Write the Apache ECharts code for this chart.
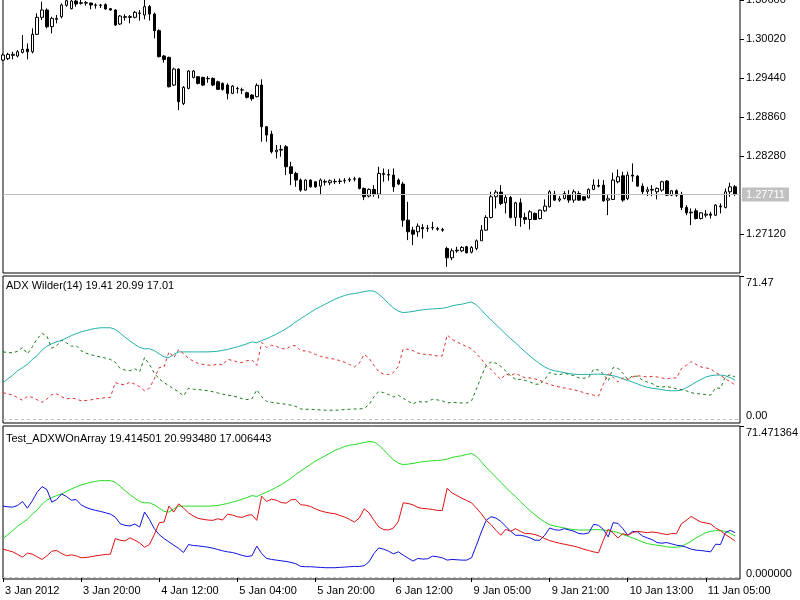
<!DOCTYPE html>
<html>
<head>
<meta charset="utf-8">
<title>ADX Wilder</title>
<script src="https://cdn.jsdelivr.net/npm/echarts@6/dist/echarts.min.js"></script>
<style>
  html, body { margin: 0; padding: 0; background: #fff; }
  #main { width: 800px; height: 600px; }
</style>
</head>
<body>
<div id="main"></div>
<script>
// H1 bars, [open, close, low, high]
var ohlc = [
  [1.29711,1.29786,1.29696,1.29810],[1.29731,1.29796,1.29711,1.29820],[1.29781,1.29796,1.29721,1.29835],
  [1.29771,1.29835,1.29751,1.29860],[1.29825,1.29870,1.29810,1.30083],[1.29875,1.29835,1.29721,1.29959],
  [1.29835,1.30093,1.29810,1.30182],[1.30093,1.30346,1.30083,1.30406],[1.30346,1.30455,1.30306,1.30579],
  [1.30455,1.30207,1.30182,1.30480],[1.30207,1.30331,1.30108,1.30356],[1.30316,1.30331,1.30257,1.30381],
  [1.30356,1.30530,1.30331,1.30554],[1.30525,1.30594,1.30505,1.30619],[1.30475,1.30589,1.30465,1.30610],
  [1.30589,1.30544,1.30505,1.30619],[1.30554,1.30564,1.30535,1.30604],[1.30564,1.30559,1.30520,1.30589],
  [1.30559,1.30530,1.30465,1.30564],[1.30530,1.30525,1.30475,1.30554],[1.30525,1.30530,1.30485,1.30545],
  [1.30535,1.30470,1.30460,1.30554],[1.30475,1.30455,1.30445,1.30485],[1.30455,1.30232,1.30217,1.30465],
  [1.30247,1.30366,1.30232,1.30381],[1.30346,1.30356,1.30297,1.30391],[1.30356,1.30346,1.30257,1.30381],
  [1.30346,1.30421,1.30331,1.30440],[1.30411,1.30406,1.30297,1.30455],[1.30381,1.30505,1.30316,1.30625],
  [1.30505,1.30396,1.30297,1.30530],[1.30396,1.30148,1.30034,1.30416],[1.30148,1.29761,1.29751,1.30168],
  [1.29771,1.29721,1.29672,1.29786],[1.29751,1.29314,1.29305,1.29761],[1.29339,1.29577,1.29324,1.29597],
  [1.29577,1.29091,1.28967,1.29587],[1.29066,1.29305,1.29042,1.29324],[1.29290,1.29548,1.29275,1.29562],
  [1.29453,1.29548,1.29438,1.29562],[1.29463,1.29364,1.29349,1.29473],[1.29453,1.29339,1.29324,1.29463],
  [1.29433,1.29438,1.29374,1.29473],[1.29438,1.29339,1.29324,1.29453],[1.29389,1.29275,1.29265,1.29404],
  [1.29364,1.29275,1.29255,1.29379],[1.29339,1.29215,1.29126,1.29364],[1.29215,1.29324,1.29205,1.29339],
  [1.29285,1.29290,1.29215,1.29314],[1.29265,1.29268,1.29205,1.29300],[1.29225,1.29156,1.29141,1.29240],
  [1.29190,1.29136,1.29106,1.29205],[1.29166,1.29334,1.29156,1.29364],[1.29339,1.28719,1.28496,1.29424],
  [1.28719,1.28595,1.28496,1.28729],[1.28610,1.28347,1.28322,1.28660],[1.28347,1.28372,1.28248,1.28446],
  [1.28372,1.28382,1.28273,1.28446],[1.28422,1.28124,1.28000,1.28446],[1.28124,1.28025,1.27851,1.28198],
  [1.28025,1.27926,1.27826,1.28050],[1.27926,1.27777,1.27752,1.27950],[1.27777,1.27926,1.27767,1.27936],
  [1.27926,1.27826,1.27816,1.27936],[1.27901,1.27826,1.27811,1.27911],[1.27836,1.27926,1.27702,1.27950],
  [1.27896,1.27906,1.27846,1.27936],[1.27886,1.27916,1.27851,1.27936],[1.27901,1.27906,1.27866,1.27946],
  [1.27906,1.27911,1.27866,1.27950],[1.27916,1.27921,1.27876,1.27955],[1.27926,1.27936,1.27896,1.27965],
  [1.27940,1.27945,1.27906,1.27975],[1.27950,1.27802,1.27787,1.27965],[1.27802,1.27678,1.27628,1.27816],
  [1.27688,1.27787,1.27668,1.27802],[1.27787,1.27717,1.27678,1.27851],[1.27717,1.28025,1.27653,1.28124],
  [1.28025,1.28010,1.27901,1.28099],[1.28010,1.28000,1.27916,1.28084],[1.28000,1.27826,1.27752,1.28099],
  [1.27926,1.27866,1.27851,1.27950],[1.27866,1.27330,1.27231,1.27901],[1.27330,1.27157,1.27033,1.27603],
  [1.27181,1.27122,1.26958,1.27231],[1.27157,1.27241,1.27082,1.27281],[1.27221,1.27201,1.27058,1.27271],
  [1.27206,1.27211,1.27157,1.27256],[1.27216,1.27221,1.27181,1.27305],[1.27206,1.27196,1.27172,1.27231],
  [1.27191,1.27181,1.27157,1.27216],[1.26909,1.26770,1.26636,1.26934],[1.26770,1.26874,1.26735,1.26909],
  [1.26874,1.26884,1.26845,1.26934],[1.26874,1.26924,1.26854,1.26944],[1.26934,1.26845,1.26835,1.26949],
  [1.26854,1.26924,1.26835,1.26944],[1.26909,1.27023,1.26884,1.27043],[1.27023,1.27181,1.27023,1.27256],
  [1.27181,1.27370,1.27171,1.27404],[1.27370,1.27678,1.27355,1.27752],[1.27678,1.27747,1.27504,1.27777],
  [1.27747,1.27578,1.27554,1.27851],[1.27588,1.27668,1.27430,1.27702],[1.27668,1.27370,1.27355,1.27688],
  [1.27370,1.27588,1.27241,1.27603],[1.27588,1.27370,1.27231,1.27653],[1.27370,1.27340,1.27271,1.27439],
  [1.27340,1.27454,1.27191,1.27479],[1.27430,1.27340,1.27330,1.27444],[1.27355,1.27479,1.27340,1.27489],
  [1.27469,1.27539,1.27454,1.27638],[1.27529,1.27752,1.27519,1.27777],[1.27717,1.27628,1.27613,1.27767],
  [1.27628,1.27648,1.27603,1.27688],[1.27653,1.27727,1.27638,1.27762],[1.27712,1.27628,1.27588,1.27777],
  [1.27628,1.27752,1.27588,1.27787],[1.27727,1.27628,1.27618,1.27762],[1.27678,1.27628,1.27613,1.27688],
  [1.27663,1.27787,1.27653,1.27802],[1.27787,1.27851,1.27777,1.27936],[1.27846,1.27836,1.27816,1.27936],
  [1.27851,1.27618,1.27603,1.27926],[1.27628,1.27648,1.27405,1.27702],[1.27638,1.27926,1.27628,1.28035],
  [1.27901,1.27975,1.27876,1.28084],[1.27990,1.27628,1.27603,1.28050],[1.27653,1.28000,1.27628,1.28050],
  [1.28000,1.27985,1.27901,1.28174],[1.27985,1.27836,1.27826,1.28000],[1.27836,1.27752,1.27702,1.27876],
  [1.27757,1.27782,1.27688,1.27826],[1.27777,1.27787,1.27688,1.27851],[1.27752,1.27802,1.27638,1.27816],
  [1.27777,1.27901,1.27752,1.27916],[1.27911,1.27702,1.27688,1.27926],[1.27702,1.27767,1.27688,1.27777],
  [1.27767,1.27702,1.27678,1.27787],[1.27712,1.27519,1.27479,1.27752],[1.27519,1.27439,1.27404,1.27554],
  [1.27439,1.27449,1.27256,1.27504],[1.27469,1.27355,1.27340,1.27504],[1.27355,1.27439,1.27340,1.27449],
  [1.27404,1.27420,1.27370,1.27479],[1.27420,1.27404,1.27355,1.27454],[1.27404,1.27554,1.27390,1.27568],
  [1.27539,1.27529,1.27430,1.27578],[1.27519,1.27752,1.27504,1.27802],[1.27752,1.27826,1.27678,1.27886],
  [1.27826,1.27711,1.27688,1.27851]
];

var adx = [
  18.18,20.06,21.94,24.13,25.70,27.27,29.78,31.66,34.48,36.36,
  37.61,38.55,39.34,40.43,41.69,42.63,43.57,44.19,44.82,45.29,
  45.61,45.61,45.61,44.82,42.94,40.90,39.02,37.30,35.73,35.11,
  35.11,34.16,32.60,31.03,30.72,32.28,33.54,33.54,33.54,33.54,
  33.54,33.54,33.54,33.69,33.85,34.32,34.79,35.42,36.05,36.83,
  37.61,38.55,38.08,39.18,40.12,41.22,42.47,43.72,45.14,46.70,
  48.58,50.15,51.72,53.28,54.85,56.11,57.36,58.61,59.87,60.81,
  61.75,62.37,62.69,63.16,63.63,64.10,63.94,62.37,60.18,57.67,
  55.48,53.91,53.13,53.44,53.75,54.23,54.54,54.85,55.01,55.17,
  55.32,55.79,56.58,57.05,57.36,57.99,58.46,57.05,54.54,51.87,
  49.52,47.17,44.82,42.47,40.12,38.08,35.73,33.54,31.34,29.46,
  27.58,26.02,24.76,24.13,23.66,23.19,22.72,22.41,22.25,22.25,
  22.25,22.41,22.41,22.25,21.94,21.63,21.00,20.06,19.28,18.49,
  17.55,16.61,15.83,15.36,15.05,14.73,14.26,14.10,14.10,14.42,
  15.67,16.93,18.49,19.75,21.00,21.63,21.94,21.94,21.63,20.69,
  19.41
];

var plusDi = [
  33.54,33.22,33.07,33.85,35.73,32.60,36.05,40.12,42.78,41.37,
  35.42,36.67,39.34,38.08,36.36,36.67,34.16,32.91,32.13,31.50,
  31.03,30.40,29.78,28.37,25.23,24.45,24.13,25.08,23.66,30.72,
  27.27,22.88,20.06,18.18,16.61,15.05,13.48,11.60,15.36,14.89,
  14.73,14.42,14.10,13.63,13.01,12.38,11.91,11.60,10.97,10.19,
  9.72,10.03,14.57,11.13,8.78,8.31,7.99,7.68,7.37,6.90,
  6.27,5.01,4.86,4.86,4.70,4.54,4.39,4.39,4.39,4.54,
  4.70,4.86,5.01,5.01,5.33,7.21,11.13,13.79,13.16,12.22,
  10.97,11.91,10.34,8.93,7.52,8.78,8.46,8.62,9.87,9.56,
  9.09,7.99,8.31,8.15,7.99,7.99,9.09,15.05,21.31,26.80,
  28.52,27.90,26.33,23.98,21.63,19.75,19.75,19.28,18.49,17.40,
  17.40,19.75,23.19,22.41,22.10,22.88,22.25,21.63,20.53,20.37,
  20.84,24.92,24.45,22.57,18.96,25.70,25.39,22.88,19.75,21.63,
  21.31,19.43,18.49,17.71,16.30,15.99,16.30,15.67,15.05,14.73,
  14.10,13.16,12.69,12.54,12.22,11.91,15.52,15.36,21.00,22.10,
  20.99
];

var minusDi = [
  13.16,12.54,11.91,10.66,9.40,11.28,10.81,9.56,8.31,10.03,
  12.22,12.54,11.13,10.03,10.50,10.03,9.09,9.25,9.56,10.03,
  10.34,10.66,10.81,18.18,17.40,17.08,18.49,17.40,16.14,14.10,
  15.36,20.06,25.70,26.02,33.54,30.72,34.64,32.60,30.40,28.84,
  27.74,27.27,26.96,26.80,27.58,26.96,29.78,29.31,28.52,28.21,
  29.15,29.46,26.80,38.24,35.73,36.83,36.36,35.26,34.95,36.52,
  36.67,34.16,34.01,33.38,32.28,31.34,30.72,30.25,29.93,29.15,
  28.37,27.27,26.02,27.90,32.28,30.40,26.80,23.66,22.41,22.25,
  23.19,26.33,35.11,34.79,34.16,32.91,32.44,32.28,31.97,31.50,
  31.50,42.00,39.81,38.55,37.30,36.20,35.11,32.60,29.93,26.80,
  24.76,22.10,19.75,22.57,21.63,22.88,21.63,20.53,20.53,20.06,
  19.28,18.18,17.24,16.61,15.99,15.52,15.05,14.57,13.95,13.16,
  12.54,11.91,11.44,17.40,22.57,20.84,18.49,20.53,19.75,21.00,
  21.63,21.31,21.00,21.31,21.00,20.53,20.06,20.53,20.53,25.23,
  26.80,28.68,27.27,26.02,25.55,25.08,23.19,21.94,20.06,18.65,
  17.01
];

// one label every 16 bars
var timeLabels = ['3 Jan 2012', '3 Jan 20:00', '4 Jan 12:00', '5 Jan 04:00', '5 Jan 20:00',
  '6 Jan 12:00', '9 Jan 05:00', '9 Jan 21:00', '10 Jan 13:00', '11 Jan 05:00'];
var priceTicks = [1.27120, 1.28280, 1.28860, 1.29440, 1.30020, 1.30600];
var lastPrice = 1.27711;
var adxTop = 71.471364;

var font = 'Liberation Sans, Arial, sans-serif';

// bar slots (one spare slot after the last bar)
var bars = [];
for (var i = 0; i <= ohlc.length; i++) {
    bars.push(i);
}

var myChart = echarts.init(document.getElementById('main'));

var xAxisOf = function (gi, showLabels) {
    return {
        type: 'category',
        gridIndex: gi,
        data: bars,
        boundaryGap: false,
        axisLine: { show: false },
        splitLine: { show: false },
        axisTick: {
            show: showLabels,
            length: 5,
            interval: function (idx) { return idx % 16 === 0; },
            lineStyle: { color: '#000' }
        },
        axisLabel: {
            show: showLabels,
            interval: function (idx) { return idx % 16 === 0; },
            formatter: function (v, idx) { return timeLabels[idx / 16] || ''; },
            align: 'left',
            padding: [0, 0, 0, 2],
            margin: 6,
            color: '#000',
            fontSize: 11,
            fontFamily: font
        }
    };
};

var adxAxisOf = function (gi, min, digits) {
    return {
        type: 'value',
        gridIndex: gi,
        position: 'right',
        min: min,
        max: adxTop,
        axisLine: { show: false },
        splitLine: { show: false },
        axisTick: { show: true, length: 4, customValues: [adxTop], lineStyle: { color: '#000' } },
        axisLabel: {
            customValues: [0, adxTop],
            margin: 6,
            color: '#000',
            fontSize: 11,
            fontFamily: font,
            formatter: function (v) {
                return v > 1 ? '{t|' + adxTop.toFixed(digits) + '}' : '{b|' + (0).toFixed(digits) + '}';
            },
            rich: {
                t: { padding: [14, 0, 0, 0], fontSize: 11, fontFamily: font, color: '#000' },
                b: { padding: [0, 0, 6, 0], fontSize: 11, fontFamily: font, color: '#000' }
            }
        }
    };
};

var zeroLine = {
    silent: true,
    symbol: ['none', 'none'],
    label: { show: false },
    lineStyle: { color: '#c0c0c0', type: [3, 3], width: 1 },
    data: [{ yAxis: 0 }]
};

var lineOf = function (name, data, gi, color, dashed, extra) {
    var s = {
        name: name,
        type: 'line',
        xAxisIndex: gi,
        yAxisIndex: gi,
        data: data,
        showSymbol: false,
        silent: true,
        lineStyle: { color: color, width: 1, type: dashed ? [3, 3] : 'solid' },
        itemStyle: { color: color }
    };
    if (extra) s.markLine = extra;
    return s;
};

var gridOf = function (top, height) {
    return {
        left: 3, right: 60, top: top, height: height,
        outerBoundsMode: 'none',
        containLabel: false,
        show: true, borderColor: '#000', borderWidth: 1
    };
};

var option = {
    animation: false,
    backgroundColor: '#fff',
    title: [
        {
            text: 'ADX Wilder(14) 19.41 20.99 17.01',
            left: 6, top: 279.5, padding: 0,
            textStyle: { fontSize: 11, fontWeight: 'normal', color: '#000', fontFamily: font, lineHeight: 13 }
        },
        {
            text: 'Test_ADXWOnArray 19.414501 20.993480 17.006443',
            left: 6, top: 432, padding: 0,
            textStyle: { fontSize: 11, fontWeight: 'normal', color: '#000', fontFamily: font, lineHeight: 13 }
        }
    ],
    grid: [gridOf(-1, 274), gridOf(276, 147), gridOf(426, 153)],
    xAxis: [xAxisOf(0, false), xAxisOf(1, false), xAxisOf(2, true)],
    yAxis: [
        {
            type: 'value',
            gridIndex: 0,
            position: 'right',
            min: 1.26544,
            max: 1.30619,
            axisLine: { show: false },
            splitLine: { show: false },
            axisTick: { show: true, length: 4, customValues: priceTicks, lineStyle: { color: '#000' } },
            axisLabel: {
                customValues: priceTicks,
                margin: 6,
                color: '#000',
                fontSize: 11,
                fontFamily: font,
                formatter: function (v) { return v.toFixed(5); }
            }
        },
        adxAxisOf(1, -2.0, 2),
        adxAxisOf(2, -0.95, 6)
    ],
    series: [
        {
            // current bid line
            name: 'Bid',
            type: 'line',
            xAxisIndex: 0,
            yAxisIndex: 0,
            data: [],
            silent: true,
            markLine: {
                silent: true,
                precision: 5,
                symbol: ['none', 'none'],
                lineStyle: { color: '#c0c0c0', type: 'solid', width: 1 },
                label: {
                    position: 'end',
                    distance: 2,
                    formatter: lastPrice.toFixed(5),
                    backgroundColor: '#c0c0c0',
                    color: '#fff',
                    padding: [2, 4, 1, 4],
                    fontSize: 11,
                    fontFamily: font
                },
                data: [{ yAxis: lastPrice }]
            }
        },
        {
            name: 'EURUSD,H1',
            type: 'candlestick',
            xAxisIndex: 0,
            yAxisIndex: 0,
            data: ohlc,
            barWidth: 3,
            silent: true,
            itemStyle: {
                color: '#fff',
                color0: '#000',
                borderColor: '#000',
                borderColor0: '#000',
                borderWidth: 1
            }
        },
        lineOf('ADX', adx, 1, '#20b2aa', false, zeroLine),
        lineOf('+DI', plusDi, 1, '#1b7a1b', true),
        lineOf('-DI', minusDi, 1, '#e03030', true),
        lineOf('ADX', adx, 2, '#22dd22', false, zeroLine),
        lineOf('+DI', plusDi, 2, '#1010e0', false),
        lineOf('-DI', minusDi, 2, '#e01010', false)
    ]
};

myChart.setOption(option);
</script>
</body>
</html>
